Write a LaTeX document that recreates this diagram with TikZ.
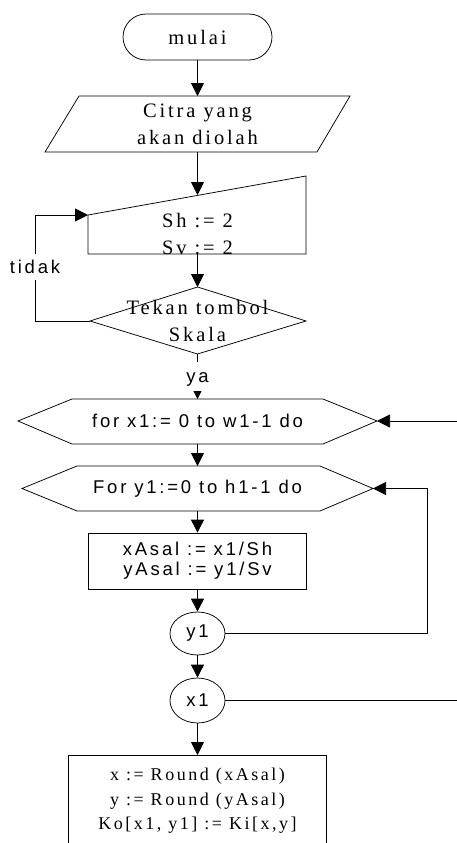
\documentclass[tikz,border=0pt]{standalone}
\usepackage{fontspec}
\usetikzlibrary{arrows.meta,shapes.misc,shapes.geometric}
\newfontfamily\serifsp[LetterSpace=14]{Liberation Serif}
\newfontfamily\sanssp[LetterSpace=15]{Liberation Sans}
\tikzset{
  base/.style={line width=0.75pt},
  arr/.style={base,-{Triangle[width=13pt,length=13pt]}},
  smallarr/.style={base,-{Triangle[width=8pt,length=8pt]}},
  serif/.style={font=\serifsp\fontsize{20.5}{27}\selectfont,align=center,inner sep=0pt},
  serifsmall/.style={font=\serifsp\fontsize{18}{24.5}\selectfont,align=center,inner sep=0pt},
  sans/.style={font=\sanssp\fontsize{18.5}{20}\selectfont,align=center,inner sep=0pt},
}
\begin{document}
\begin{tikzpicture}[x=1pt,y=-1pt]
\useasboundingbox (0,0) rectangle (457,843);

% start terminator
\node[base,draw,rounded rectangle,minimum width=149pt,minimum height=46pt,
      serif] (start) at (197.5,37) {mulai};

% input parallelogram
\coordinate (inT) at (197.5,96);
\coordinate (inB) at (197.5,152);
\draw[base] (79,96) -- (350,96) -- (317,152) -- (45,152) -- cycle;
\node[serif] (inText) at (197.5,124) {Citra yang\\akan diolah};

% manual input block
\coordinate (manT) at (197.5,195);
\coordinate (manL) at (88,215);
\coordinate (manB) at (197.5,254);
\draw[base] (88,215) -- (306,176) -- (306,254) -- (88,254) -- cycle;
\node[serif] (manText) at (197.5,234) {Sh := 2\\Sv := 2};

% decision
\coordinate (decT) at (197.5,287);
\coordinate (decL) at (90,321);
\coordinate (decB) at (197.5,354);
\draw[base] (197.5,287) -- (306,321) -- (197.5,354) -- (90,321) -- cycle;
\node[serif] (decText) at (197.5,321) {Tekan tombol\\Skala};

% outer loop hexagon
\coordinate (h1T) at (197.5,399);
\coordinate (h1R) at (377,421);
\coordinate (h1B) at (197.5,444);
\draw[base] (18,421) -- (72,399) -- (323,399) -- (377,421) -- (323,444) -- (72,444) -- cycle;
\node[sans] (h1Text) at (197.5,421) {for x1:= 0 to w1-1 do};

% inner loop hexagon
\coordinate (h2T) at (197.5,466);
\coordinate (h2R) at (373,488.5);
\coordinate (h2B) at (197.5,511);
\draw[base] (22,488.5) -- (77,466) -- (320,466) -- (373,488.5) -- (320,511) -- (77,511) -- cycle;
\node[sans] (h2Text) at (197.5,488.5) {For y1:=0 to h1-1 do};

% process box
\node[base,draw,sans,minimum width=218pt,minimum height=56pt] (calc) at (197.5,561) {xAsal := x1/Sh\\yAsal := y1/Sv};

% loop ends
\node[base,draw,ellipse,minimum width=55pt,minimum height=43pt,sans] (y1) at (197.5,633.5) {y1};
\node[base,draw,ellipse,minimum width=55pt,minimum height=45pt,sans] (x1) at (197.5,700.5) {x1};

% final process box
\coordinate (finT) at (197.5,755);
\draw[base] (68,850) -- (68,755) -- (326,755) -- (326,850);
\node[serifsmall] (finText) at (197.5,801) {x := Round (xAsal)\\y := Round (yAsal)\\Ko[x1, y1] := Ki[x,y]};

% edge anchors
\coordinate (rightA) at (457,421);
\coordinate (rightB) at (457,700.5);
\coordinate (loopX) at (427,633.5);
\coordinate (tidakX) at (35,321);

% connectors
\draw[arr] (start.south) -- (inT);
\draw[arr] (inB) -- (manT);
\draw[arr] (manB) -- (decT);
\draw[arr] (decL) -- (tidakX) |- (manL);
\node[sans,fill=white,inner ysep=6pt,inner xsep=1pt] (tidak) at (35,267) {tidak};
\draw[base] (decB) -- ++(0,8) coordinate (yaTop);
\node[sans] (ya) at (197.5,379) {ya};
\draw[smallarr] (197.5,391) -- (h1T);
\draw[arr] (rightA) -- (h1R);
\draw[arr] (h1B) -- (h2T);
\draw[arr] (h2B) -- (calc.north);
\draw[arr] (calc.south) -- (y1.north);
\draw[arr] (y1.east) -- (loopX) |- (h2R);
\draw[arr] (y1.south) -- (x1.north);
\draw[base] (x1.east) -- (rightB);
\draw[arr] (x1.south) -- (finT);
\end{tikzpicture}
\end{document}
